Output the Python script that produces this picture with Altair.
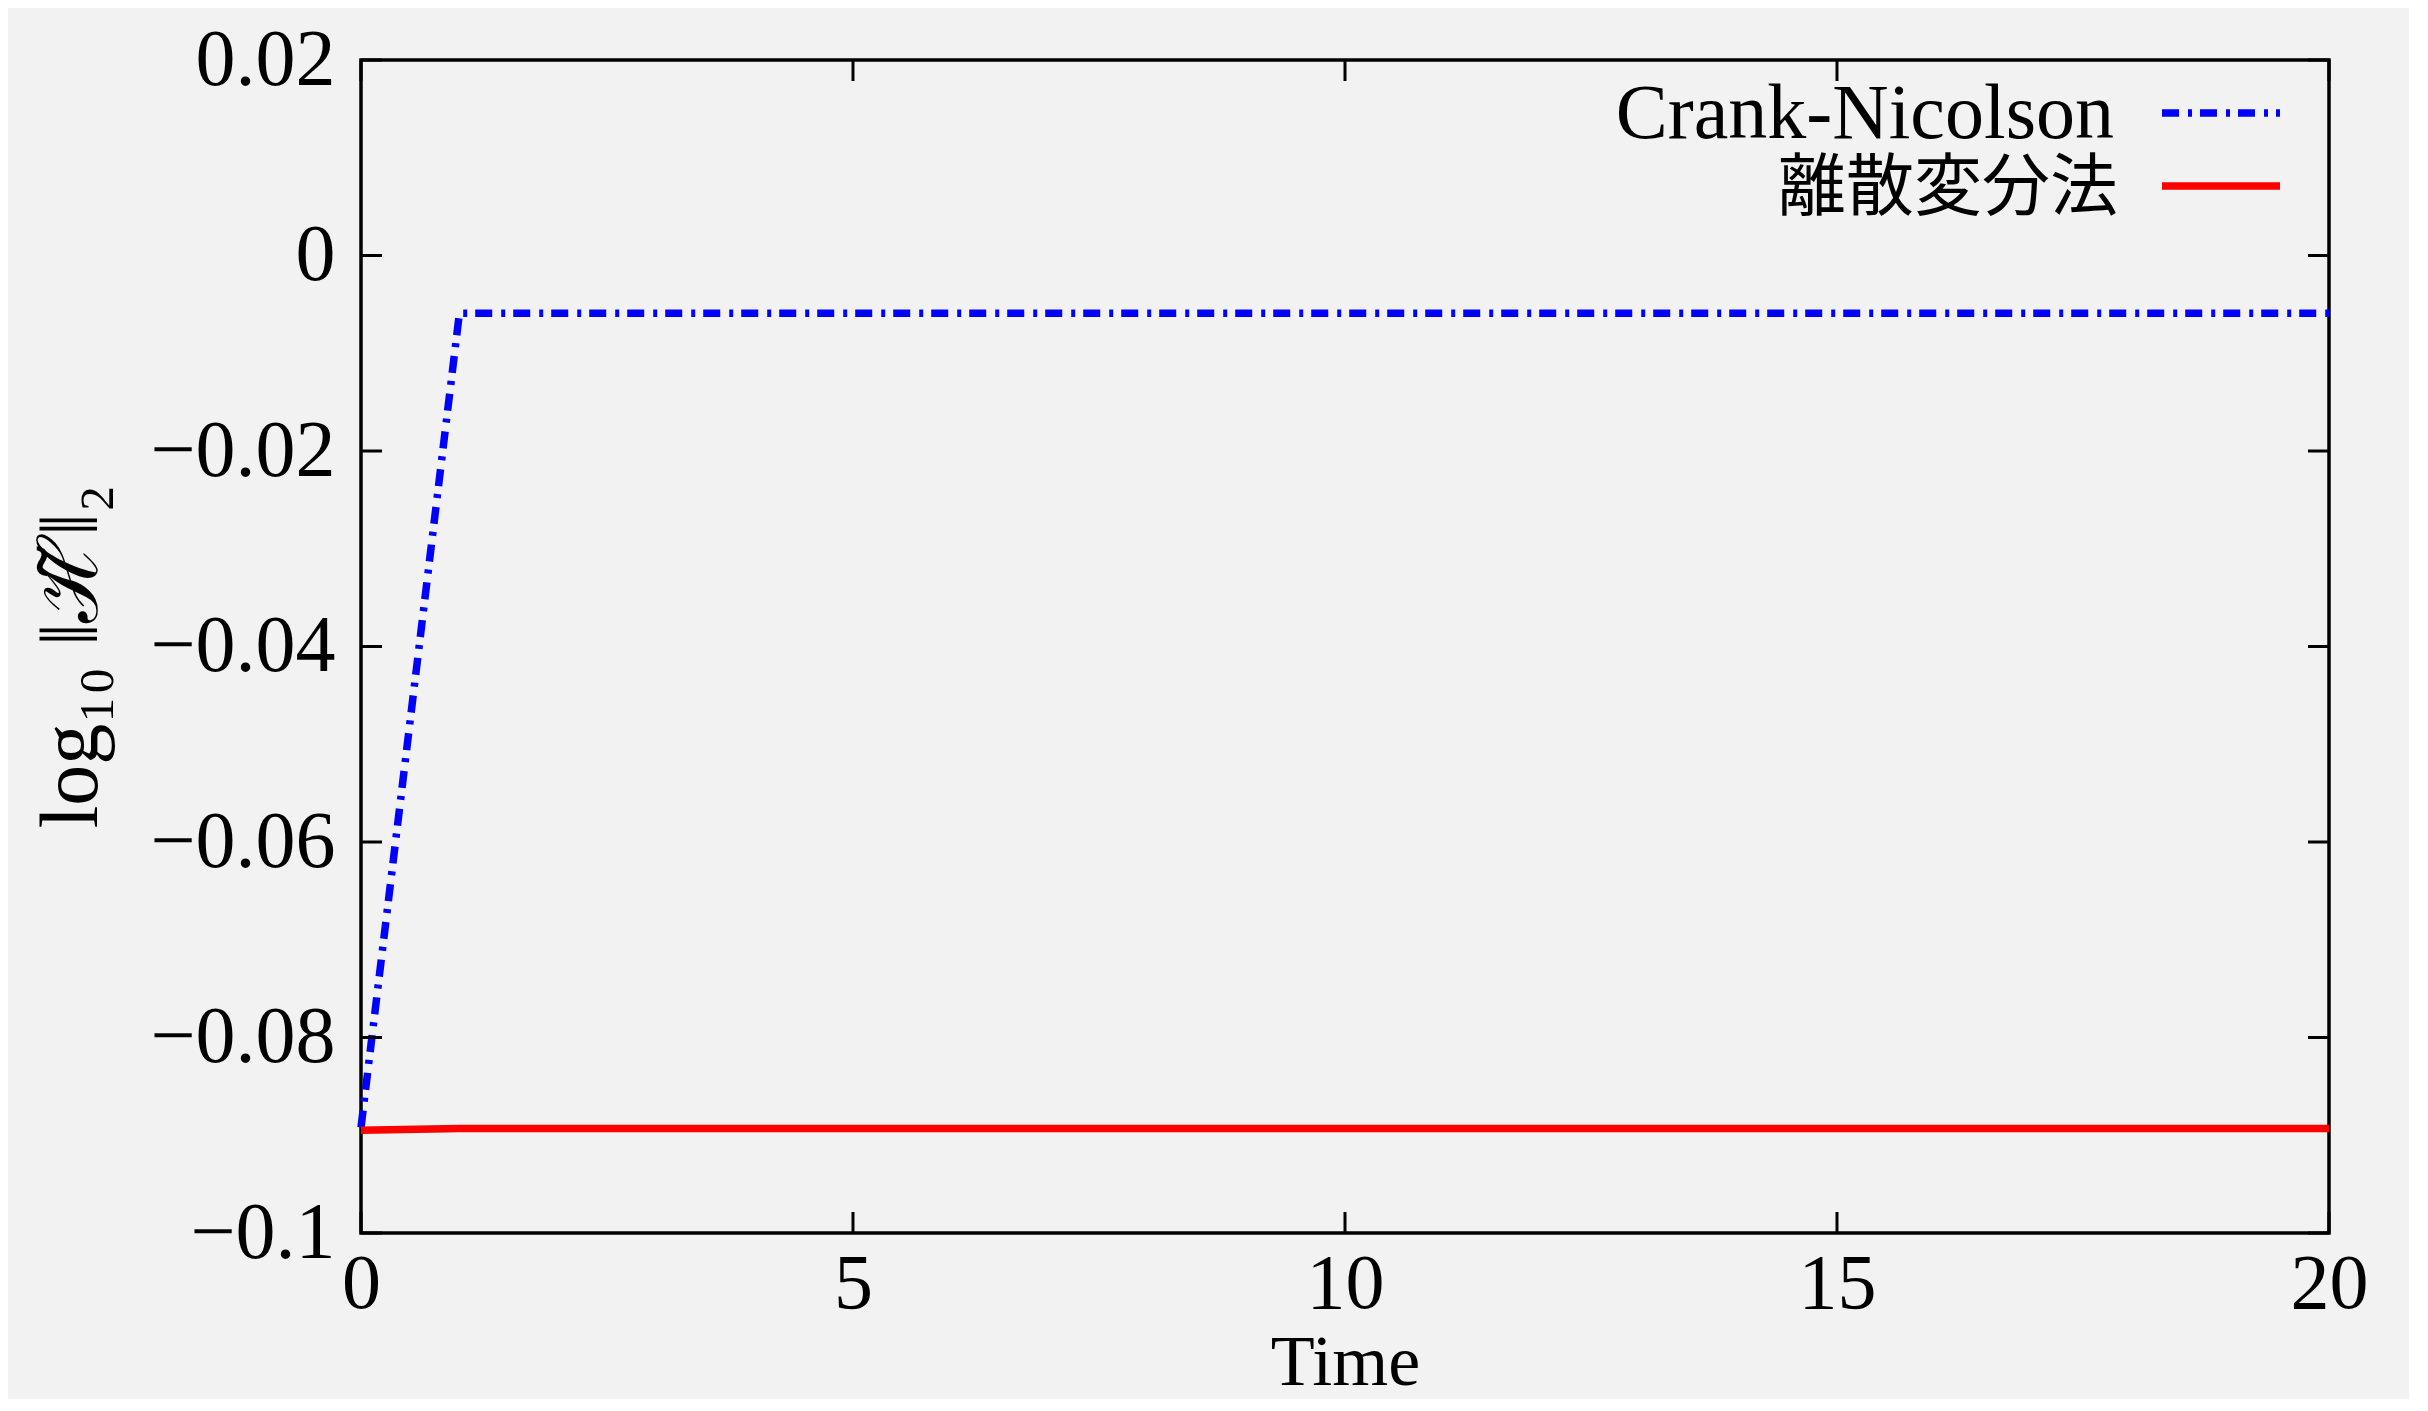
import altair as alt
import pandas as pd

# ---- data ----
time = [0, 1, 2, 3, 4, 5, 6, 7, 8, 9, 10, 11, 12, 13, 14, 15, 16, 17, 18, 19, 20]
crank_nicolson = [-0.0892, -0.0059, -0.0059, -0.0059, -0.0059, -0.0059, -0.0059,
                  -0.0059, -0.0059, -0.0059, -0.0059, -0.0059, -0.0059, -0.0059,
                  -0.0059, -0.0059, -0.0059, -0.0059, -0.0059, -0.0059, -0.0059]
discrete_variational = [-0.0895, -0.0893, -0.0893, -0.0893, -0.0893, -0.0893, -0.0893,
                        -0.0893, -0.0893, -0.0893, -0.0893, -0.0893, -0.0893, -0.0893,
                        -0.0893, -0.0893, -0.0893, -0.0893, -0.0893, -0.0893, -0.0893]
series_names = ["Crank-Nicolson", "離散変分法"]
x_ticks = [0, 5, 10, 15, 20]
y_ticks = [0.02, 0, -0.02, -0.04, -0.06, -0.08, -0.1]
x_title = "Time"
y_title = "log₁₀ ‖ℋ̃‖₂"

# ---- style ----
W, H = 1968, 1173
FONT = "'Liberation Serif', 'Noto Sans CJK JP', serif"
BG = "#f2f2f2"
TICK_LEN = 21
TICK_W = 3
LINE_W = 7.5
DASHDOT = [17, 9, 4, 8]

xs = alt.Scale(domain=[0, 20], nice=False, zero=False)
ys = alt.Scale(domain=[-0.1, 0.02], nice=False, zero=False)

df_cn = pd.DataFrame({"t": time, "v": crank_nicolson})
df_dv = pd.DataFrame({"t": time, "v": discrete_variational})
df_xt = pd.DataFrame({"t": x_ticks})
df_yt = pd.DataFrame({"v": y_ticks})

x_axis = alt.Axis(values=x_ticks, ticks=False, domain=False, grid=False,
                  labelPadding=12, labelFlush=False, labelOverlap=False,
                  labelLimit=600,
                  labelFontSize=78, labelFont=FONT, labelColor="black",
                  title=x_title, titleFont=FONT, titleFontSize=72,
                  titleFontWeight="normal", titleColor="black",
                  titleBaseline="alphabetic", titleY=151, titleX=W / 2)
y_axis = alt.Axis(values=y_ticks, ticks=False, domain=False, grid=False,
                  format=".2~f", labelPadding=26, labelFlush=False,
                  labelOverlap=False, labelLimit=600,
                  labelFontSize=80, labelFont=FONT,
                  labelColor="black", labelBaseline="middle",
                  title=y_title, titleFont=FONT, titleFontSize=82,
                  titleFontWeight="normal", titleColor="black",
                  titleBaseline="middle", titleAlign="center", titleLimit=800,
                  titleAngle=270, titleX=-290, titleY=596)

X = alt.X("t:Q", scale=xs, axis=x_axis)
Y = alt.Y("v:Q", scale=ys, axis=y_axis)

cn_line = alt.Chart(df_cn).mark_line(
    color="#0000ff", strokeWidth=LINE_W, strokeDash=DASHDOT, strokeCap="butt"
).encode(x=X, y=Y)

dv_line = alt.Chart(df_dv).mark_line(
    color="#ff0000", strokeWidth=LINE_W, strokeCap="butt"
).encode(x=X, y=Y)

# inward ticks on all four sides
tick_bottom = alt.Chart(df_xt).mark_rule(color="black", strokeWidth=TICK_W).encode(
    x=X, y=alt.value(H - TICK_LEN), y2=alt.value(H))
tick_top = alt.Chart(df_xt).mark_rule(color="black", strokeWidth=TICK_W).encode(
    x=X, y=alt.value(0), y2=alt.value(TICK_LEN))
tick_left = alt.Chart(df_yt).mark_rule(color="black", strokeWidth=TICK_W).encode(
    y=Y, x=alt.value(0), x2=alt.value(TICK_LEN))
tick_right = alt.Chart(df_yt).mark_rule(color="black", strokeWidth=TICK_W).encode(
    y=Y, x=alt.value(W - TICK_LEN), x2=alt.value(W))

# legend (labels to the left of the line samples)
LEG_TEXT_X = 1753
LEG_SYM_X1, LEG_SYM_X2 = 1801, 1919
df_l0 = pd.DataFrame({"name": [series_names[0]]})
df_l1 = pd.DataFrame({"name": [series_names[1]]})

leg_t0 = alt.Chart(df_l0).mark_text(
    align="right", baseline="alphabetic", font=FONT, fontSize=78, color="black"
).encode(x=alt.value(LEG_TEXT_X), y=alt.value(78), text="name:N")
leg_t1 = alt.Chart(df_l1).mark_text(
    align="right", baseline="alphabetic", font=FONT, fontSize=68, color="black"
).encode(x=alt.value(LEG_TEXT_X + 4), y=alt.value(150), text="name:N")
leg_s0 = alt.Chart(df_l0).mark_rule(
    color="#0000ff", strokeWidth=LINE_W, strokeDash=DASHDOT, strokeCap="butt"
).encode(x=alt.value(LEG_SYM_X1), x2=alt.value(LEG_SYM_X2), y=alt.value(53))
leg_s1 = alt.Chart(df_l1).mark_rule(
    color="#ff0000", strokeWidth=LINE_W, strokeCap="butt"
).encode(x=alt.value(LEG_SYM_X1), x2=alt.value(LEG_SYM_X2), y=alt.value(126))

chart = alt.layer(
    cn_line, dv_line, tick_bottom, tick_top, tick_left, tick_right,
    leg_t0, leg_t1, leg_s0, leg_s1
).properties(
    width=W, height=H,
    background=BG,
    padding={"left": 353, "top": 52, "right": 80, "bottom": 166},
    autosize=alt.AutoSizeParams(type="none"),
).configure_view(
    stroke="black", strokeWidth=3.5
)

chart.save("out.html", embed_options={"renderer": "svg", "actions": False})
